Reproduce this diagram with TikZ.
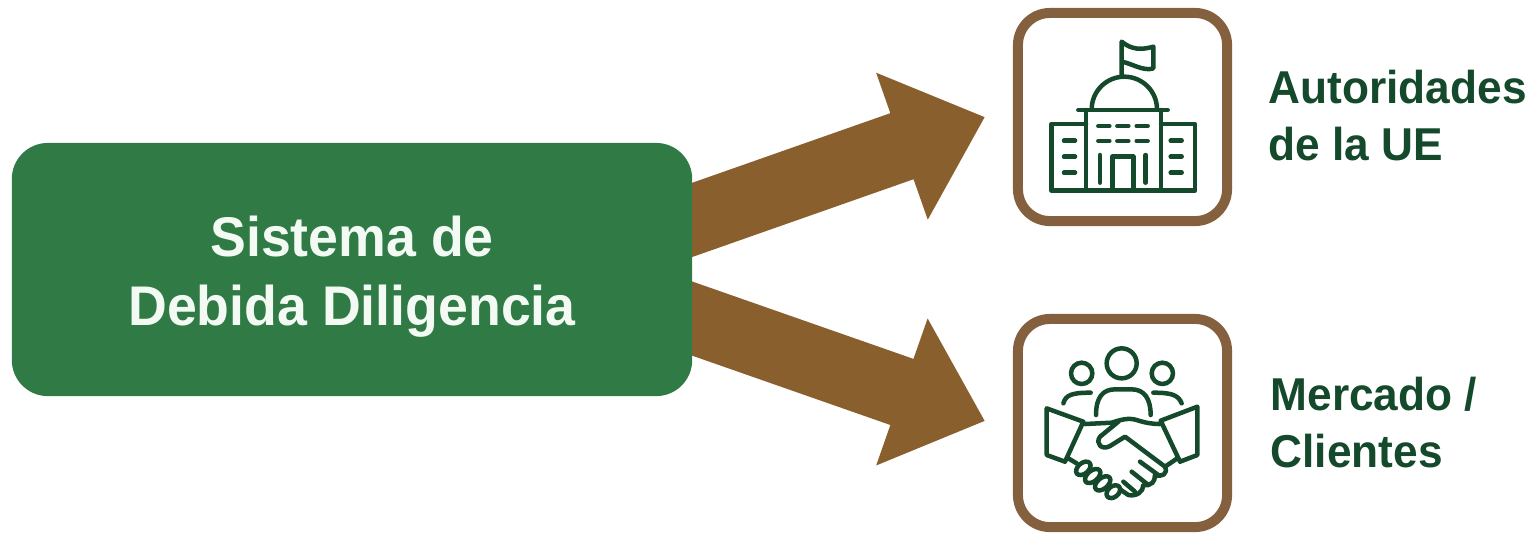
\documentclass[tikz,border=0pt]{standalone}
\usepackage{fontspec}
\usetikzlibrary{arrows.meta,backgrounds}
\setmainfont[FakeStretch=0.96]{Liberation Sans}
\definecolor{sysgreen}{RGB}{47,122,69}
\definecolor{darkgreen}{RGB}{20,74,43}
\definecolor{arrowbrown}{RGB}{138,95,46}
\definecolor{framebrown}{RGB}{133,96,63}
\definecolor{softwhite}{RGB}{243,250,243}
\tikzset{
  sysbox/.style={fill=sysgreen,rounded corners=0.36cm,minimum width=6.8cm,minimum height=2.53cm,align=center,text=softwhite,font=\fontsize{15.9}{19.6}\selectfont\bfseries},
  framebox/.style={draw=framebrown,line width=0.1cm,fill=white,rounded corners=0.32cm,minimum width=2.09cm,minimum height=2.08cm},
  sidelabel/.style={anchor=west,align=left,text=darkgreen,inner sep=0pt,font=\fontsize{13.1}{16.2}\selectfont\bfseries},
  bigarrow/.style={line width=0.7cm,draw=arrowbrown,-{Triangle[length=0.88cm,width=1.5cm,fill=arrowbrown]}},
  iconline/.style={draw=darkgreen,line width=0.045cm,line join=round,line cap=round}
}
\begin{document}
\begin{tikzpicture}[x=0.01cm,y=-0.01cm]
\useasboundingbox (0,0) rectangle (1534,532);
\node[sysbox] (sys) at (352,269.5) {\rule{0pt}{15.6pt}Sistema de\\Debida Diligencia};
\node[framebox] (auth) at (1122.5,117) {};
\node[framebox] (mkt) at (1122.5,423) {};
\node[sidelabel] (authlabel) at (1268,116) {Autoridades\\de la UE};
\node[sidelabel] (mktlabel) at (1270,422.5) {Mercado /\\Clientes};
\coordinate (sysup) at (662,230.5);
\coordinate (sysdown) at (662,308);
\coordinate (authtip) at (985,117);
\coordinate (mkttip) at (985,421);
\begin{pgfonlayer}{background}
\draw[bigarrow] (sysup) -- (authtip);
\draw[bigarrow] (sysdown) -- (mkttip);
\end{pgfonlayer}
\begin{scope}[shift={(1000,0)},scale=1/3,iconline]
\draw (365,230) -- (365,125) .. controls (395,150) and (425,150) .. (460,140) -- (460,205) .. controls (430,215) and (395,190) .. (365,185);
\draw (275,328) arc[start angle=180,end angle=360,x radius=98,y radius=98];
\draw (235,330) -- (503,330);
\draw (258,330) -- (258,572);
\draw (483,330) -- (483,572);
\draw (258,372) -- (155,372) -- (155,572) -- (585,572) -- (585,372) -- (483,372);
\draw (337,572) -- (337,470) -- (400,470) -- (400,572);
\draw (300,465) -- (300,548);
\draw (437,465) -- (437,548);
\foreach \wy in {378,423}
  \foreach \wx in {295,352,410}
    \draw (\wx,\wy) -- ++(33,0);
\foreach \wy in {422,470,518} {
  \draw (192,\wy) -- ++(33,0);
  \draw (512,\wy) -- ++(33,0);
}
\end{scope}
\begin{scope}[shift={(1000,300)},scale=1/3,iconline]
\draw (365,190) circle[radius=45];
\draw (245,220) circle[radius=32];
\draw (487,220) circle[radius=32];
\draw (288,345) .. controls (288,290) and (310,268) .. (345,268) -- (395,268) .. controls (432,268) and (452,295) .. (452,345);
\draw (190,310) .. controls (197,285) and (215,278) .. (272,278);
\draw (460,278) .. controls (515,278) and (535,285) .. (545,310);
\end{scope}
\begin{scope}[shift={(1040,400)},scale=1/3,iconline]
\draw (20,25) -- (130,65) -- (75,185) -- (20,165) -- cycle;
\draw (472,20) -- (362,62) -- (420,185) -- (472,165) -- cycle;
\draw (135,72) -- (215,68) .. controls (240,60) and (265,52) .. (290,60) .. controls (315,68) and (335,72) .. (360,72);
\draw (235,65) -- (180,110) .. controls (165,130) and (185,152) .. (210,138) -- (255,110) -- (375,200) .. controls (385,222) and (365,232) .. (345,225) .. controls (345,245) and (335,258) .. (310,255) .. controls (310,275) and (290,290) .. (265,285) -- (240,268);
\draw (378,198) -- (412,175);
\draw (300,185) -- (355,225);
\draw (275,215) -- (325,255);
\draw (250,245) -- (285,275);
\draw (85,175) -- (110,190);
\draw[rotate around={-50:(130,205)}] (130,205) ellipse[x radius=16,y radius=25];
\draw[rotate around={-50:(158,228)}] (158,228) ellipse[x radius=16,y radius=27];
\draw[rotate around={-50:(188,250)}] (188,250) ellipse[x radius=16,y radius=27];
\draw[rotate around={-50:(220,275)}] (220,275) ellipse[x radius=16,y radius=23];
\end{scope}
\end{tikzpicture}
\end{document}
